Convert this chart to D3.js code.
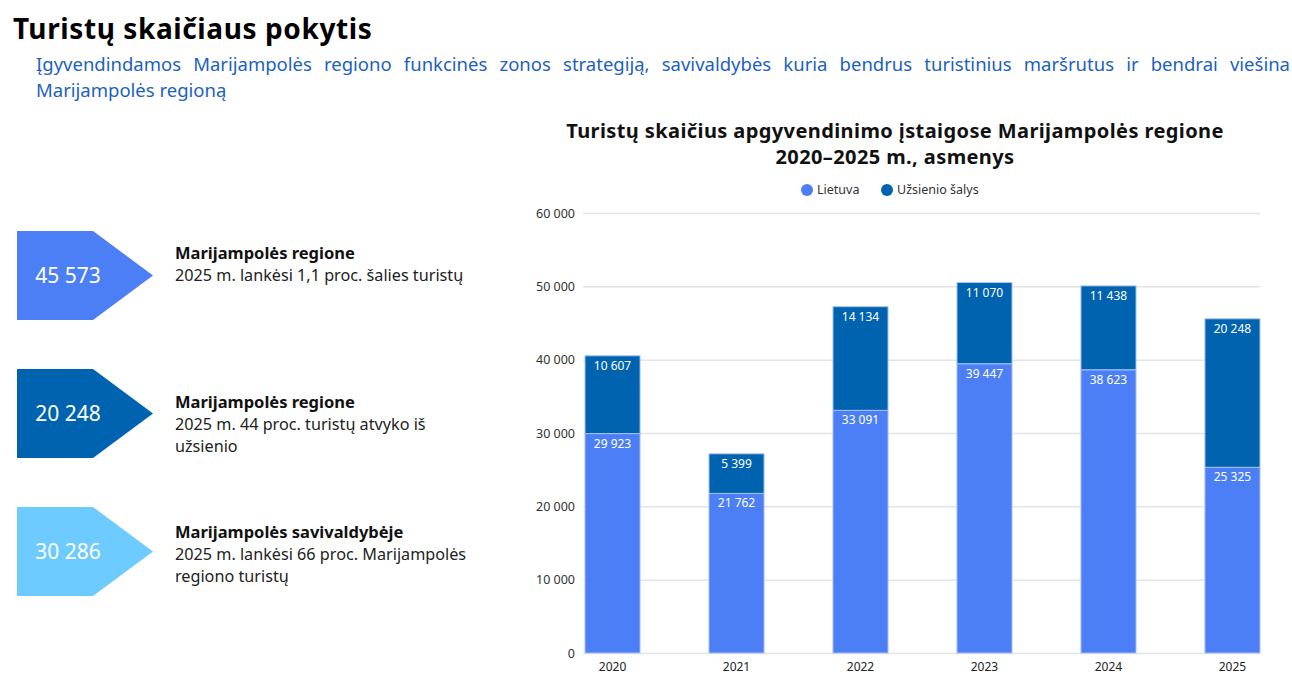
<!DOCTYPE html>
<html>
<head>
<meta charset="utf-8">
<script src="https://cdn.jsdelivr.net/npm/d3@7"></script>
<style>
  body { margin:0; background:#fff; font-family:"Noto Sans", sans-serif; }
  #wrap { position:relative; width:1292px; height:692px; overflow:hidden; }
  #lead { position:absolute; left:36px; top:51px; width:1254px; font-size:18.5px; line-height:26px; color:#1d5fc2; }
  #lead .l1 { text-align:justify; text-align-last:justify; white-space:nowrap; }
  svg { position:absolute; left:0; top:0; }
</style>
</head>
<body>
<div id="wrap">
  <div id="lead"><div class="l1" style="white-space:normal">Įgyvendindamos Marijampolės regiono funkcinės zonos strategiją, savivaldybės kuria bendrus turistinius maršrutus ir bendrai viešina</div><div>Marijampolės regioną</div></div>
  <svg id="chart" width="1292" height="692"></svg>
</div>
<script>
// duomenys
var years = ["2020", "2021", "2022", "2023", "2024", "2025"];
var lietuva = [29923, 21762, 33091, 39447, 38623, 25325];
var uzsienio = [10607, 5399, 14134, 11070, 11438, 20248];
var seriesNames = ["Lietuva", "Užsienio šalys"];
var yTicks = [0, 10000, 20000, 30000, 40000, 50000, 60000];

var cardValues = [45573, 20248, 30286];
var cardTitles = ["Marijampolės regione", "Marijampolės regione", "Marijampolės savivaldybėje"];
var cardLines = [
  ["2025 m. lankėsi 1,1 proc. šalies turistų"],
  ["2025 m. 44 proc. turistų atvyko iš", "užsienio"],
  ["2025 m. lankėsi 66 proc. Marijampolės", "regiono turistų"]
];

var COLORS = ["#4c7ff5", "#0063b0"];
var CARD_COLORS = ["#4c7ff5", "#0063b0", "#6ecbff"];

var loc = d3.formatLocale({ decimal: ",", thousands: " ", grouping: [3], currency: ["", ""] });
var fmt = loc.format(",d");

var svg = d3.select("#chart");

// antraštė
svg.append("text").attr("x", 13).attr("y", 39)
  .attr("font-size", 28).attr("font-weight", 700).attr("fill", "#000")
  .attr("letter-spacing", 0.6)
  .text("Turistų skaičiaus pokytis");

// kortelės kairėje
var cardTop = [231, 369, 507];
var headOff = [28, 39, 31];
var cards = svg.selectAll(".card").data(cardValues).enter().append("g")
  .attr("class", "card")
  .attr("transform", function(d, i) { return "translate(17," + cardTop[i] + ")"; });

cards.append("path")
  .attr("d", "M0,0 L76,0 L136,44.5 L76,89 L0,89 Z")
  .attr("fill", function(d, i) { return CARD_COLORS[i]; });

cards.append("text").attr("x", 51).attr("y", 52)
  .attr("text-anchor", "middle").attr("font-size", 21).attr("fill", "#fff")
  .text(function(d) { return fmt(d); });

cards.append("text").attr("x", 158).attr("y", function(d, i) { return headOff[i]; })
  .attr("font-size", 16.5).attr("font-weight", 700).attr("fill", "#111")
  .text(function(d, i) { return cardTitles[i]; });

cards.each(function(d, i) {
  d3.select(this).selectAll(".ln").data(cardLines[i]).enter().append("text")
    .attr("class", "ln").attr("x", 158).attr("y", function(t, j) { return headOff[i] + 22 + j * 22; })
    .attr("font-size", 16.2).attr("fill", "#222").text(function(t) { return t; });
});

// diagrama
var x0 = 585, x1 = 1260, yBottom = 653, yTop = 213;
var x = d3.scaleBand().domain(years).range([x0, x1]).paddingInner(0.556).paddingOuter(0);
var y = d3.scaleLinear().domain([0, 60000]).range([yBottom, yTop]);

var ctitle = svg.append("text").attr("text-anchor", "middle")
  .attr("font-size", 20).attr("font-weight", 700).attr("fill", "#111").attr("letter-spacing", 0.4);
ctitle.append("tspan").attr("x", 895).attr("y", 138).text("Turistų skaičius apgyvendinimo įstaigose Marijampolės regione");
ctitle.append("tspan").attr("x", 895).attr("y", 164).text("2020–2025 m., asmenys");

// legenda
var legX = [807, 887];
var leg = svg.selectAll(".leg").data(seriesNames).enter().append("g")
  .attr("transform", function(d, i) { return "translate(" + legX[i] + ",190)"; });
leg.append("circle").attr("r", 6).attr("fill", function(d, i) { return COLORS[i]; });
leg.append("text").attr("x", 10).attr("y", 4).attr("font-size", 12.5).attr("fill", "#333").text(function(d) { return d; });

// tinklelis ir ašys
var yAxis = d3.axisLeft(y).tickValues(yTicks).tickSize(-(x1 - x0 + 2)).tickFormat(fmt).tickPadding(8);
var gy = svg.append("g").attr("transform", "translate(" + (x0 - 2) + ",0)").call(yAxis);
gy.select(".domain").remove();
gy.selectAll(".tick line").attr("stroke", "#e4e4e4").attr("stroke-width", 1.5);
gy.selectAll(".tick text").attr("font-size", 12.5).attr("fill", "#333").attr("font-family", "Noto Sans");

var xAxis = d3.axisBottom(x).tickSize(0).tickPadding(9);
var gx = svg.append("g").attr("transform", "translate(0," + yBottom + ")").call(xAxis);
gx.select(".domain").remove();
gx.selectAll(".tick text").attr("font-size", 12).attr("fill", "#222").attr("font-family", "Noto Sans");

// stulpeliai
var stack = d3.stack().keys([0, 1]).value(function(d, k) { return d[k]; });
var rows = years.map(function(yr, i) { return [lietuva[i], uzsienio[i]]; });
var layers = stack(rows);

var gl = svg.selectAll(".layer").data(layers).enter().append("g")
  .attr("class", "layer").attr("fill", function(d, i) { return COLORS[i]; });

gl.selectAll("rect").data(function(d) { return d; }).enter().append("rect")
  .attr("x", function(d, i) { return x(years[i]); })
  .attr("width", x.bandwidth())
  .attr("y", function(d) { return y(d[1]); })
  .attr("height", function(d) { return y(d[0]) - y(d[1]); })
  .attr("stroke", "#a8c3f0").attr("stroke-width", 1);

gl.selectAll(".lbl").data(function(d) { return d; }).enter().append("text")
  .attr("class", "lbl")
  .attr("x", function(d, i) { return x(years[i]) + x.bandwidth() / 2; })
  .attr("y", function(d) { return y(d[1]) + 14; })
  .attr("text-anchor", "middle").attr("font-size", 12).attr("fill", "#fff")
  .text(function(d) { return fmt(d[1] - d[0]); });
</script>
</body>
</html>
